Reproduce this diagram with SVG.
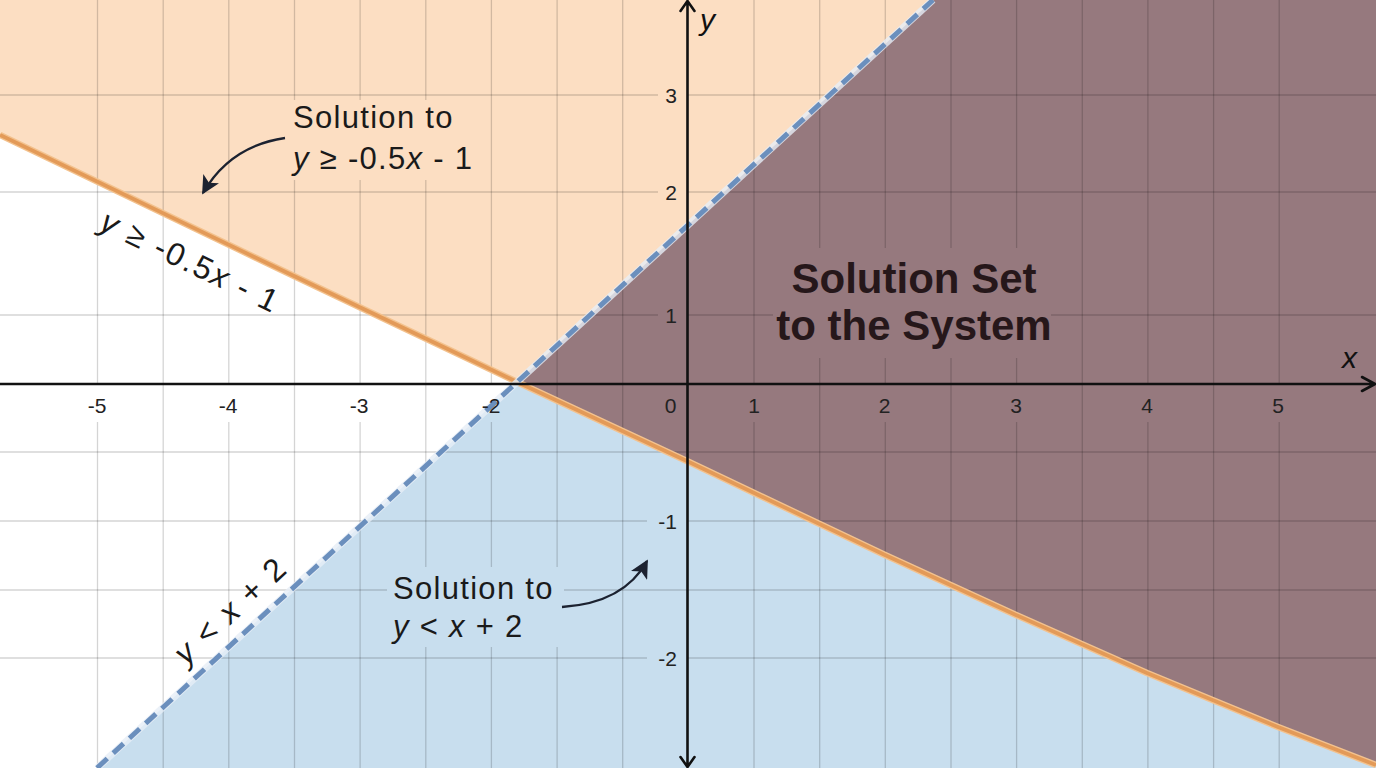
<svg xmlns="http://www.w3.org/2000/svg" width="1376" height="768" viewBox="0 0 1376 768">
  <defs>
    <style>
      .grid { stroke:#000; stroke-opacity:0.17; stroke-width:1.3; fill:none; }
      .axis { stroke:#111; stroke-width:2.6; fill:none; stroke-linecap:round; stroke-linejoin:round; }
      .tick { font-family:"Liberation Sans", Arial, sans-serif; font-size:21px; fill:#222; }
      .tx { text-anchor:middle; }
      .ty { text-anchor:end; }
      .lbl { font-family:"Liberation Sans", Arial, sans-serif; font-size:31px; fill:#1a1a1a; letter-spacing:1.3px; }
      .rot { font-family:"Liberation Sans", Arial, sans-serif; font-size:32px; fill:#1a1a1a; letter-spacing:2px; }
      .big { font-family:"Liberation Sans", Arial, sans-serif; font-size:42px; font-weight:bold; fill:#26171a; text-anchor:middle; }
      .it { font-style:italic; }
      .axlbl { font-family:"Liberation Sans", Arial, sans-serif; font-size:30px; font-style:italic; fill:#111; }
      .arrow { stroke:#1c2230; stroke-width:2.3; fill:none; }
    </style>
    <marker id="ah" viewBox="0 0 10 10" refX="9" refY="5" markerWidth="8" markerHeight="8" orient="auto" markerUnits="strokeWidth">
      <path d="M0,0 L10,5 L0,10 L2.5,5 Z" fill="#1c2230"/>
    </marker>
  </defs>

  <rect x="0" y="0" width="1376" height="768" fill="#ffffff"/>

  <g id="regions">
    <path id="region-peach" d="M0,0 L933,0 L517,382 L294,276 L0,135 Z" fill="#fcdec2"/>
    <path id="region-white" d="M0,135 L294,276 L517,382 L97,768 L0,768 Z" fill="#ffffff"/>
    <path id="region-blue" d="M517,382 L689,462 L885,555 L1016,615 L1147,673 L1278,727 L1376,765 L1376,768 L97,768 Z" fill="#c8deee"/>
    <path id="region-purple" d="M933,0 L1376,0 L1376,765 L1278,727 L1147,673 L1016,615 L885,555 L689,462 L517,382 Z" fill="#96797e"/>
  </g>

  <g id="grid" class="grid">
    <path d="M97.5,0V384M97.5,422V768
             M163.2,0V768
             M228.8,0V384M228.8,422V768
             M294.5,0V768
             M360.1,0V384M360.1,422V768
             M425.8,0V768
             M491.4,0V384M491.4,422V768
             M557.1,0V768
             M622.7,0V768
             M754,0V384M754,422V768
             M819.7,0V768
             M885.3,0V384M885.3,422V768
             M951,0V768
             M1016.6,0V384M1016.6,422V768
             M1082.3,0V768
             M1147.9,0V384M1147.9,422V768
             M1213.6,0V768
             M1279.2,0V384M1279.2,422V768"/>
    <path d="M0,95H658M687,95H1376
             M0,192H658M687,192H1376
             M0,315H658M687,315H1376
             M0,452H1376
             M0,521H647M687,521H1376
             M0,590H1376
             M0,658H647M687,658H1376"/>
  </g>

  <g id="label-backgrounds">
    <rect x="285" y="100" width="195" height="80" fill="#fcdec2"/>
    <rect x="387" y="567" width="177" height="80" fill="#c8deee"/>
    <rect x="773" y="248" width="278" height="110" fill="#96797e"/>
  </g>

  <g id="connectors">
    <g id="boundary-orange">
      <polyline points="0,135 294,276 517,382 689,462 885,555 1016,615 1147,673 1278,727 1376,765" fill="none" stroke="#f3c28e" stroke-width="6.5" stroke-linejoin="round"/>
      <polyline points="0,135 294,276 517,382 689,462 885,555 1016,615 1147,673 1278,727 1376,765" fill="none" stroke="#e39a58" stroke-width="3.8" stroke-linejoin="round"/>
    </g>
    <g id="boundary-blue">
      <line x1="97" y1="768" x2="933" y2="0" stroke="#e6eef6" stroke-width="7" stroke-opacity="0.8"/>
      <line x1="97" y1="768" x2="933" y2="0" stroke="#6b8fbd" stroke-width="5" stroke-dasharray="14 8"/>
    </g>
    <path id="arrow-top" class="arrow" d="M285,138 Q230,146 203,193" marker-end="url(#ah)"/>
    <path id="arrow-bottom" class="arrow" d="M562,607 Q624,603 647,561" marker-end="url(#ah)"/>
  </g>

  <g id="axes">
    <path class="axis" d="M0,384 H1374 M1362,377 L1375,384 L1362,391"/>
    <path class="axis" d="M687.5,1 V767 M680.5,11 L687.5,1 L694.5,11 M680.5,757 L687.5,767 L694.5,757"/>
    <text class="axlbl" x="1342" y="368">x</text>
    <text class="axlbl" x="700" y="30">y</text>
  </g>

  <g id="x-ticks" class="tick tx">
    <text x="97" y="412.5">-5</text>
    <text x="228" y="412.5">-4</text>
    <text x="359" y="412.5">-3</text>
    <text x="491" y="412.5">-2</text>
    <text x="670.5" y="412.5">0</text>
    <text x="754" y="412.5">1</text>
    <text x="884.5" y="412.5">2</text>
    <text x="1016" y="412.5">3</text>
    <text x="1147" y="412.5">4</text>
    <text x="1278" y="412.5">5</text>
  </g>
  <g id="y-ticks" class="tick ty">
    <text x="677" y="103">3</text>
    <text x="677" y="200">2</text>
    <text x="677" y="323">1</text>
    <text x="677" y="528.5">-1</text>
    <text x="677" y="665.5">-2</text>
  </g>

  <g id="label-solution-orange">
    <text class="lbl" x="293" y="127.5">Solution to</text>
    <text class="lbl" x="293" y="169"><tspan class="it">y</tspan> ≥ -0.5<tspan class="it">x</tspan> - 1</text>
  </g>

  <g id="label-solution-blue">
    <text class="lbl" x="393" y="599">Solution to</text>
    <text class="lbl" x="393" y="637"><tspan class="it">y</tspan> &lt; <tspan class="it">x</tspan> + 2</text>
  </g>

  <g id="label-solution-set">
    <text class="big" x="914" y="293">Solution Set</text>
    <text class="big" x="914" y="340">to the System</text>
  </g>

  <g id="label-line-orange">
    <text class="rot" transform="translate(98,229) rotate(25.8)"><tspan class="it">y</tspan> ≥ -0.5<tspan class="it">x</tspan> - 1</text>
  </g>

  <g id="label-line-blue">
    <text class="rot" transform="translate(186,666) rotate(-42.7)"><tspan class="it">y</tspan> &lt; <tspan class="it">x</tspan> + 2</text>
  </g>
</svg>
